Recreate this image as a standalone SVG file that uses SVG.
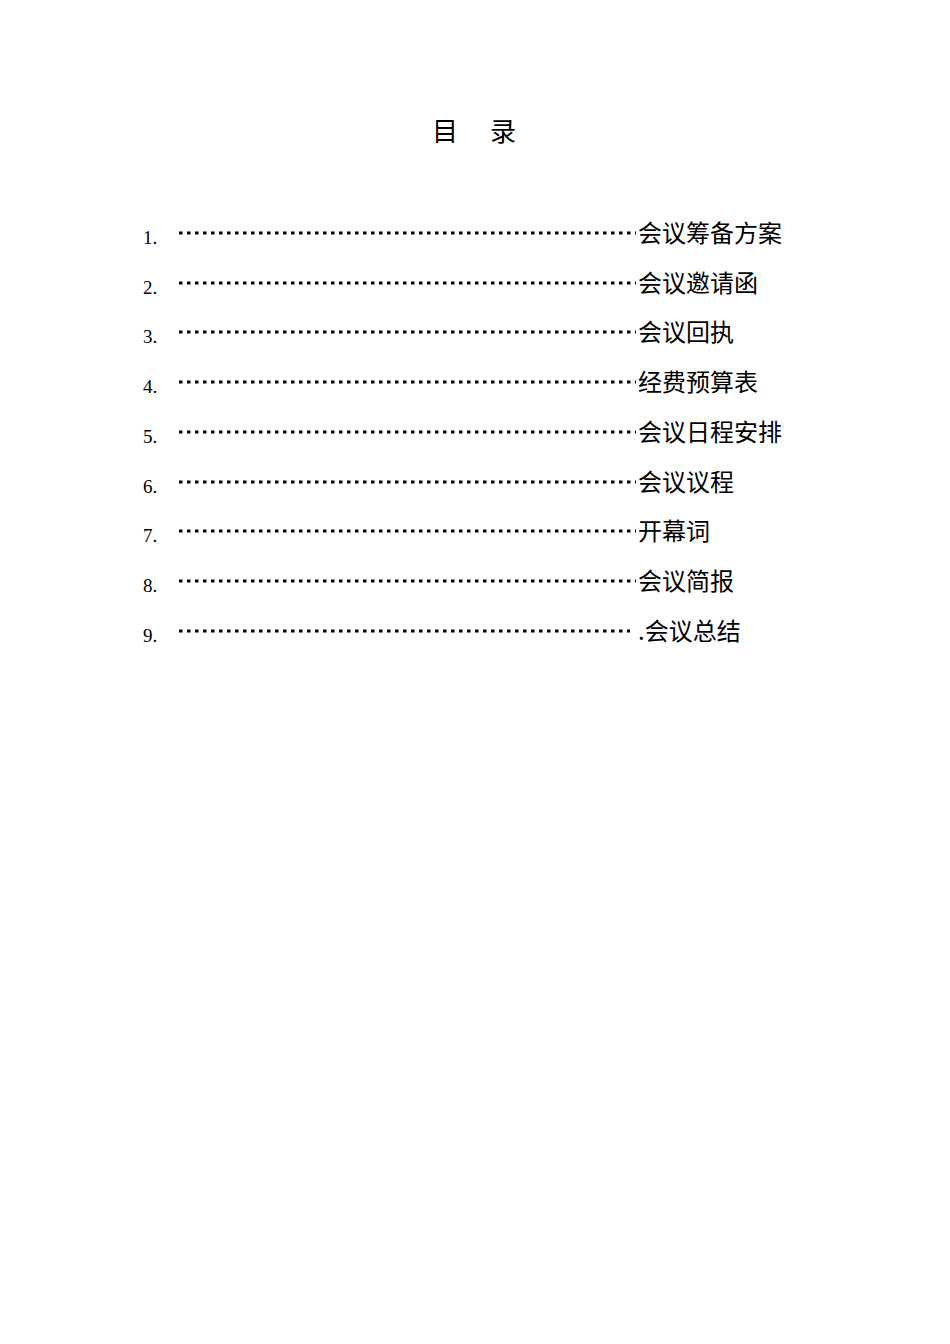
<svg xmlns="http://www.w3.org/2000/svg" width="950" height="1344" viewBox="0 0 950 1344">
<style>
.n{font-family:"Liberation Serif",serif;font-size:19px;fill:#000}
.t{font-family:"Noto Sans CJK SC",sans-serif;font-size:24px;fill:#000}
.d{stroke:#000;stroke-width:3;stroke-dasharray:3.5 4.5}
</style>
<rect width="950" height="1344" fill="#fff"/>
<text x="432" y="141" font-family="Noto Sans CJK SC,sans-serif" font-size="26">目</text>
<text x="490" y="141" font-family="Noto Sans CJK SC,sans-serif" font-size="26">录</text>
<g id="r1"><text class="n" x="143" y="244">1.</text><line class="d" x1="179" y1="233" x2="636" y2="233"/><text class="t" x="638" y="242">会议筹备方案</text></g>
<g id="r2"><text class="n" x="143" y="294">2.</text><line class="d" x1="179" y1="283" x2="636" y2="283"/><text class="t" x="638" y="292">会议邀请函</text></g>
<g id="r3"><text class="n" x="143" y="343">3.</text><line class="d" x1="179" y1="332" x2="636" y2="332"/><text class="t" x="638" y="341">会议回执</text></g>
<g id="r4"><text class="n" x="143" y="393">4.</text><line class="d" x1="179" y1="382" x2="636" y2="382"/><text class="t" x="638" y="391">经费预算表</text></g>
<g id="r5"><text class="n" x="143" y="443">5.</text><line class="d" x1="179" y1="432" x2="636" y2="432"/><text class="t" x="638" y="441">会议日程安排</text></g>
<g id="r6"><text class="n" x="143" y="493">6.</text><line class="d" x1="179" y1="482" x2="636" y2="482"/><text class="t" x="638" y="491">会议议程</text></g>
<g id="r7"><text class="n" x="143" y="542">7.</text><line class="d" x1="179" y1="531" x2="636" y2="531"/><text class="t" x="638" y="540">开幕词</text></g>
<g id="r8"><text class="n" x="143" y="592">8.</text><line class="d" x1="179" y1="581" x2="636" y2="581"/><text class="t" x="638" y="590">会议简报</text></g>
<g id="r9"><text class="n" x="143" y="642">9.</text><line class="d" x1="179" y1="631" x2="630" y2="631"/><text class="t" x="638" y="640">.会议总结</text></g>
</svg>
